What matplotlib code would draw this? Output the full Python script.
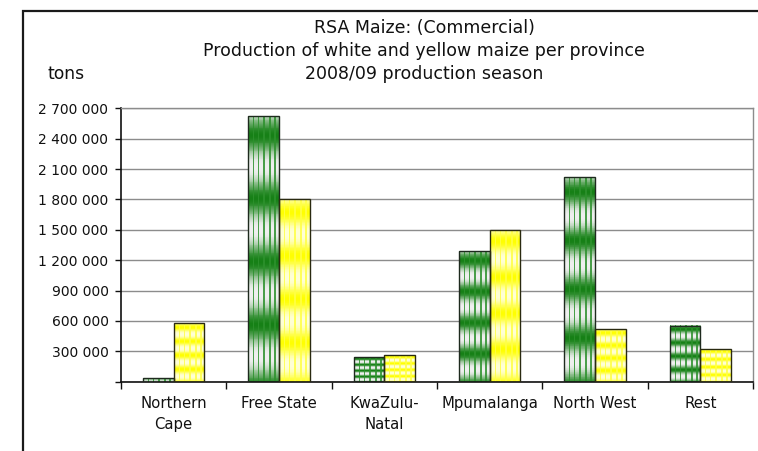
import numpy as np
import matplotlib
matplotlib.use("Agg")
import matplotlib.pyplot as plt
from matplotlib.patches import Rectangle
from matplotlib.ticker import FixedLocator, FuncFormatter

# Data (tons)
provinces = ["Northern\nCape", "Free State", "KwaZulu-\nNatal", "Mpumalanga",
             "North West", "Rest"]
white_maize = [35000, 2620000, 245000, 1290000, 2020000, 555000]
yellow_maize = [575000, 1800000, 265000, 1495000, 517000, 323000]

title_lines = ["RSA Maize: (Commercial)",
               "Production of white and yellow maize per province",
               "2008/09 production season"]
y_ticks = np.arange(0, 2700001, 300000)


def texture(dark, light, stripe, nbands=4.2, nstripes=6, rows=300, cols=30):
    # banded gradient with thin vertical stripes, like the Excel picture fill
    yy = np.linspace(0, 1, rows)[:, None]
    xx = (np.arange(cols) + 0.5)[None, :] / cols
    band = (1 + np.cos(2 * np.pi * (nbands * yy - 0.3))) / 2
    band = band ** 1.3
    dark = np.array(dark) / 255.
    light = np.array(light) / 255.
    stripe = np.array(stripe) / 255.
    img = light + band[..., None] * (dark - light)
    img = np.broadcast_to(img, (rows, cols, 3)).copy()
    s = ((xx * nstripes) % 1.0) < 0.3
    s = np.broadcast_to(s, (rows, cols))
    mix = 0.85
    img[s] = img[s] * (1 - mix) + stripe * mix
    return img


tex_green = texture((22, 128, 22), (240, 240, 240), (45, 145, 45))
tex_yellow = texture((255, 255, 0), (255, 255, 215), (255, 255, 70))

fig = plt.figure(figsize=(7.58, 4.51), dpi=100)
ax = fig.add_axes([121 / 758, 1 - 381.7 / 451, (753 - 121) / 758, (381.7 - 108.3) / 451])

x = np.arange(len(provinces))
w = 0.29
bars_w = ax.bar(x, white_maize, width=-w, align="edge", fill=False,
                edgecolor="#1e2a1e", linewidth=1.0, zorder=3)
bars_y = ax.bar(x, yellow_maize, width=w, align="edge", fill=False,
                edgecolor="#2a2a10", linewidth=1.0, zorder=3)

for bars, tex in [(bars_w, tex_green), (bars_y, tex_yellow)]:
    for b in bars:
        x0 = b.get_x()
        x1 = x0 + b.get_width()
        ax.imshow(tex, extent=[min(x0, x1), max(x0, x1), 0, b.get_height()],
                  aspect="auto", interpolation="nearest", zorder=2)

ax.set_xlim(-0.5, len(provinces) - 0.5)
ax.set_ylim(0, 2700000)
ax.set_aspect("auto")

# grid and frame
ax.yaxis.grid(True, color="#8c8c8c", linewidth=1.0)
ax.set_axisbelow(True)
for side in ["top", "right"]:
    ax.spines[side].set_color("#8c8c8c")
    ax.spines[side].set_linewidth(1.0)
for side in ["left", "bottom"]:
    ax.spines[side].set_color("#111111")
    ax.spines[side].set_linewidth(1.2)

ax.set_yticks(y_ticks)
ax.yaxis.set_major_formatter(FuncFormatter(
    lambda v, p: "" if v == 0 else "{:,.0f}".format(v).replace(",", " ")))
ax.tick_params(axis="y", length=4, width=1, pad=5, labelsize=10,
               colors="#111111")

# x ticks at category boundaries, labels at centres
ax.xaxis.set_major_locator(FixedLocator(np.arange(-0.5, len(provinces), 1.0)))
ax.xaxis.set_major_formatter(FuncFormatter(lambda v, p: ""))
ax.xaxis.set_minor_locator(FixedLocator(x))
ax.set_xticklabels(provinces, minor=True, fontsize=10.7, linespacing=1.55,
                   color="#111111")
ax.tick_params(axis="x", which="major", length=5, width=1, color="#111111")
ax.tick_params(axis="x", which="minor", length=0, pad=10)

# titles
for i, line in enumerate(title_lines):
    fig.text(424 / 758, 1 - (28 + 23 * i) / 451, line, ha="center",
             va="center", fontsize=12.5, color="#111111")
fig.text(47 / 758, 1 - 74 / 451, "tons", ha="left", va="center",
         fontsize=12.3, color="#111111")

# outer chart border (runs off the right and bottom of the image)
top = 1 - 10.7 / 451
fig.patches.append(Rectangle((22.5 / 758, -0.2), 1.2, top + 0.2,
                             transform=fig.transFigure, fill=False,
                             edgecolor="#1a1a1a", linewidth=1.6))

fig.savefig("out.png", dpi=100)
